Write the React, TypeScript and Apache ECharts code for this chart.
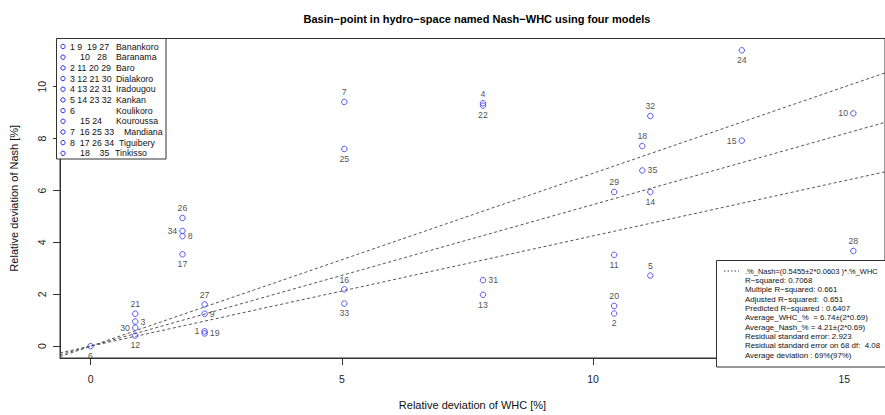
import { useEffect, useRef } from "react";
import * as echarts from "echarts";

const chartTitle = "Basin−point in hydro−space named Nash−WHC using four models";
const xTitle = "Relative deviation of WHC [%]";
const yTitle = "Relative deviation of Nash [%]";
const xTicks = [0, 5, 10, 15];
const yTicks = [0, 2, 4, 6, 8, 10];
const xRange = [-0.608, 15.81];
const yRange = [-0.456, 11.856];

const pointIds = [6, 21, 3, 30, 12, 26, 34, 8, 17, 27, 9, 1, 19, 7, 25, 4, 22, 16, 33, 31, 13, 24, 32, 10, 18, 15, 35, 29, 14, 28, 11, 5, 20, 2];
const whc = [0, 0.89, 0.89, 0.89, 0.89, 1.83, 1.83, 1.83, 1.83, 2.27, 2.27, 2.27, 2.27, 5.05, 5.05, 7.81, 7.81, 5.05, 5.05, 7.81, 7.81, 12.96, 11.14, 15.18, 10.98, 12.96, 10.98, 10.42, 11.14, 15.18, 10.42, 11.14, 10.42, 10.42];
const nash = [0, 1.25, 0.95, 0.71, 0.41, 4.94, 4.44, 4.24, 3.54, 1.61, 1.25, 0.57, 0.49, 9.41, 7.6, 9.36, 9.27, 2.19, 1.64, 2.54, 1.98, 11.4, 8.87, 8.97, 7.71, 7.92, 6.77, 5.94, 5.94, 3.67, 3.52, 2.72, 1.55, 1.26];
const labelPos = ["bottom", "top", "right", "left", "bottom", "top", "left", "right", "bottom", "top", "right", "left", "right", "top", "bottom", "top", "bottom", "top", "bottom", "right", "bottom", "bottom", "top", "left", "top", "left", "right", "top", "bottom", "top", "bottom", "top", "top", "bottom"];

const slopes = [0.4249, 0.5455, 0.6661];

const NB = "\u00A0";
const legendNumbers = [
  "1 9  19 27",
  "10   28",
  "2 11 20 29",
  "3 12 21 30",
  "4 13 22 31",
  "5 14 23 32",
  "6",
  "15 24",
  "7  16 25 33",
  "8  17 26 34",
  "18    35",
].map((s) => s.replace(/ /g, NB));
const legendNumX = [70, 80, 70, 70, 70, 70, 70, 80, 70, 70, 80];
const legendNames = ["Banankoro", "Baranama", "Baro", "Dialakoro", "Iradougou", "Kankan", "Koulikoro", "Kouroussa", "Mandiana", "Tiguibery", "Tinkisso"];
const legendNameX = [116, 116, 116, 116, 116, 116, 116, 116, 124, 119, 115];

const statLines = [
  ".%_Nash=(0.5455±2*0.0603 )*.%_WHC",
  "R−squared: 0.7068",
  "Multiple R−squared: 0.661",
  "Adjusted R−squared:  0.651",
  "Predicted R−squared : 0.6407",
  "Average_WHC_%  = 6.74±(2*0.69)",
  "Average_Nash_% = 4.21±(2*0.69)",
  "Residual standard error: 2.923",
  "Residual standard error on 68 df:  4.08",
  "Average deviation : 69%(97%)",
].map((s) => s.replace(/ {2}/g, " " + NB));

const FONT = "'Liberation Sans', Arial, Helvetica, sans-serif";
const BLUE = "#2f2ff2";
const AXIS = "#333";
const TICK_LEN = 7;

export default function App() {
  const ref = useRef<HTMLDivElement>(null);
  useEffect(() => {
    const chart = echarts.init(ref.current!, null, { renderer: "svg" });

    const gridLeft = 56;
    const gridTop = 38.5;
    const gridW = 832.4;
    const gridH = 328.5;

    const graphics: any[] = [];
    // top-left legend
    graphics.push({
      type: "rect",
      shape: { x: 56.5, y: 38.5, width: 109.5, height: 120.5 },
      style: { fill: "#fff", stroke: "#333", lineWidth: 1 },
      z: 100,
    });
    legendNumbers.forEach((t, i) => {
      const y = 46.5 + i * 10.68;
      graphics.push({
        type: "circle",
        shape: { cx: 63, cy: y, r: 2.2 },
        style: { fill: "none", stroke: BLUE, lineWidth: 1 },
        z: 101,
      });
      graphics.push({
        type: "text",
        x: legendNumX[i],
        y,
        style: { text: t, font: `8.8px ${FONT}`, fill: "#111", textVerticalAlign: "middle" },
        z: 101,
      });
      graphics.push({
        type: "text",
        x: legendNameX[i],
        y,
        style: { text: legendNames[i], font: `8.8px ${FONT}`, fill: "#111", textVerticalAlign: "middle" },
        z: 101,
      });
    });

    // bottom-right stats box
    const sbX = 716.5, sbY = 260.5;
    graphics.push({
      type: "rect",
      shape: { x: sbX, y: sbY, width: 200, height: 367 - sbY },
      style: { fill: "#fff", stroke: "#333", lineWidth: 1 },
      z: 100,
    });
    graphics.push({
      type: "line",
      shape: { x1: 724, y1: 271, x2: 739, y2: 271 },
      style: { stroke: "#444", lineWidth: 1, lineDash: [1.5, 2] },
      z: 101,
    });
    statLines.forEach((t, i) => {
      graphics.push({
        type: "text",
        x: 745,
        y: 271 + i * 9.35,
        style: { text: t, font: `${i === 0 ? 7.5 : 7.9}px ${FONT}`, fill: "#111", textVerticalAlign: "middle" },
        z: 101,
      });
    });

    const scatterData = pointIds.map((id, i) => ({
      value: [whc[i], nash[i]],
      name: String(id),
      label: { position: labelPos[i] },
    }));

    const lineSeries = slopes.map((s) => ({
      type: "line",
      data: [
        [xRange[0], s * xRange[0]],
        [xRange[1], s * xRange[1]],
      ],
      symbol: "none",
      clip: true,
      silent: true,
      lineStyle: { color: "#555", width: 1, type: [3, 2.5] },
      z: 1,
    }));

    chart.setOption({
      animation: false,
      backgroundColor: "#fff",
      textStyle: { fontFamily: FONT },
      title: {
        text: chartTitle,
        left: 472,
        top: 8,
        textAlign: "center",
        textStyle: { fontSize: 11, fontWeight: "bold", color: "#000", fontFamily: FONT },
      },
      grid: {
        left: gridLeft,
        top: gridTop,
        width: gridW,
        height: gridH,
        show: true,
        borderColor: AXIS,
        borderWidth: 1,
        backgroundColor: "transparent",
      },
      xAxis: {
        type: "value",
        min: xRange[0],
        max: xRange[1],
        name: xTitle,
        nameLocation: "middle",
        nameGap: 41,
        nameTextStyle: { fontSize: 11, color: "#111", fontFamily: FONT },
        axisLine: { show: true, onZero: false, lineStyle: { color: AXIS, width: 1 } },
        splitLine: { show: false },
        axisTick: { show: true, inside: false, length: TICK_LEN, lineStyle: { color: AXIS, width: 1 }, customValues: xTicks },
        axisLabel: { fontSize: 10.5, color: "#222", margin: 15, customValues: xTicks, fontFamily: FONT },
      },
      yAxis: {
        type: "value",
        min: yRange[0],
        max: yRange[1],
        name: yTitle,
        nameLocation: "middle",
        nameGap: 41,
        nameRotate: 90,
        nameTextStyle: { fontSize: 11, color: "#111", fontFamily: FONT },
        axisLine: { show: true, onZero: false, lineStyle: { color: AXIS, width: 1 } },
        splitLine: { show: false },
        axisTick: { show: true, inside: false, length: TICK_LEN, lineStyle: { color: AXIS, width: 1 }, customValues: yTicks },
        axisLabel: { fontSize: 10.5, color: "#222", margin: 13, rotate: 90, customValues: yTicks, fontFamily: FONT },
      },
      series: [
        ...lineSeries,
        {
          type: "scatter",
          data: scatterData,
          symbol: "circle",
          symbolSize: 5.5,
          itemStyle: { color: "rgba(0,0,0,0)", borderColor: BLUE, borderWidth: 1 },
          label: {
            show: true,
            formatter: "{b}",
            fontSize: 8.8,
            color: "#222",
            distance: 2,
            fontFamily: FONT,
          },
          z: 5,
        },
      ],
      graphic: graphics,
    });

    return () => chart.dispose();
  }, []);
  return <div ref={ref} style={{ position: "absolute", left: 0, top: 0, width: 885, height: 415 }} />;
}
